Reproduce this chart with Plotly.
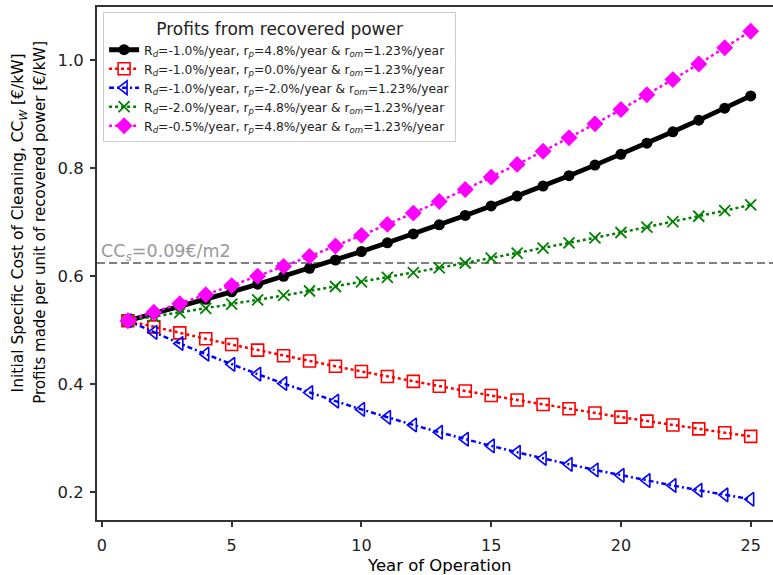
import plotly.graph_objects as go

years = list(range(1, 26))

black_vals = [0.517, 0.5299, 0.5431, 0.5566, 0.5705, 0.5847, 0.5993, 0.6142, 0.6295,
              0.6452, 0.6613, 0.6778, 0.6947, 0.7120, 0.7297, 0.7479, 0.7665, 0.7856,
              0.8052, 0.8253, 0.8458, 0.8669, 0.8885, 0.9107, 0.9334]
red_vals = [0.517, 0.5056, 0.4945, 0.4836, 0.4729, 0.4625, 0.4523, 0.4424, 0.4326,
            0.4231, 0.4138, 0.4047, 0.3957, 0.3870, 0.3785, 0.3702, 0.3620, 0.3540,
            0.3462, 0.3386, 0.3311, 0.3238, 0.3167, 0.3097, 0.3029]
blue_vals = [0.517, 0.4955, 0.4749, 0.4551, 0.4362, 0.4181, 0.4007, 0.3840, 0.3681,
             0.3528, 0.3381, 0.3240, 0.3105, 0.2976, 0.2853, 0.2734, 0.2620, 0.2511,
             0.2407, 0.2307, 0.2211, 0.2119, 0.2031, 0.1946, 0.1865]
green_vals = [0.517, 0.5245, 0.5322, 0.5399, 0.5478, 0.5558, 0.5638, 0.5721, 0.5804,
              0.5888, 0.5974, 0.6061, 0.6149, 0.6239, 0.6330, 0.6422, 0.6515, 0.6610,
              0.6706, 0.6804, 0.6903, 0.7004, 0.7105, 0.7209, 0.7314]
magenta_vals = [0.517, 0.5326, 0.5486, 0.5651, 0.5821, 0.5996, 0.6177, 0.6362, 0.6554,
                0.6751, 0.6954, 0.7163, 0.7379, 0.7601, 0.7830, 0.8065, 0.8308, 0.8558,
                0.8816, 0.9081, 0.9354, 0.9636, 0.9925, 1.0224, 1.0532]

names = [
    "R<sub><i>d</i></sub>=-1.0%/year, r<sub><i>p</i></sub>=4.8%/year & r<sub><i>om</i></sub>=1.23%/year",
    "R<sub><i>d</i></sub>=-1.0%/year, r<sub><i>p</i></sub>=0.0%/year & r<sub><i>om</i></sub>=1.23%/year",
    "R<sub><i>d</i></sub>=-1.0%/year, r<sub><i>p</i></sub>=-2.0%/year & r<sub><i>om</i></sub>=1.23%/year",
    "R<sub><i>d</i></sub>=-2.0%/year, r<sub><i>p</i></sub>=4.8%/year & r<sub><i>om</i></sub>=1.23%/year",
    "R<sub><i>d</i></sub>=-0.5%/year, r<sub><i>p</i></sub>=4.8%/year & r<sub><i>om</i></sub>=1.23%/year",
]
cc_s_value = 0.624
cc_s_label = "CC<sub><i>s</i></sub>=0.09€/m2"
x_ticks = [0, 5, 10, 15, 20, 25]
y_ticks = [0.2, 0.4, 0.6, 0.8, 1.0]

FONT = "DejaVu Sans"
fig = go.Figure()

fig.add_trace(go.Scatter(
    x=years, y=black_vals, name=names[0], mode="lines+markers",
    line=dict(color="black", width=4.8),
    marker=dict(symbol="circle", size=11, color="black")))
fig.add_trace(go.Scatter(
    x=years, y=red_vals, name=names[1], mode="lines+markers",
    line=dict(color="#ff0000", width=2.5, dash="dot"),
    marker=dict(symbol="square-open", size=12, color="#ff0000", line=dict(width=1.6))))
fig.add_trace(go.Scatter(
    x=years, y=blue_vals, name=names[2], mode="lines+markers",
    line=dict(color="#0000ff", width=2.5, dash="5px,3px,2px,3px"),
    marker=dict(symbol="triangle-left-open", size=12, color="#0000ff", line=dict(width=1.6))))
fig.add_trace(go.Scatter(
    x=years, y=green_vals, name=names[3], mode="lines+markers",
    line=dict(color="#008000", width=2.5, dash="dot"),
    marker=dict(symbol="x-thin-open", size=11, color="#008000", line=dict(width=1.8, color="#008000"))))
fig.add_trace(go.Scatter(
    x=years, y=magenta_vals, name=names[4], mode="lines+markers",
    line=dict(color="#ff00ff", width=2.5, dash="dot"),
    marker=dict(symbol="diamond", size=13, color="#ff00ff")))

fig.add_shape(type="line", xref="paper", x0=0, x1=1, yref="y", y0=cc_s_value, y1=cc_s_value,
              line=dict(color="#808080", width=2, dash="8px,4px"), layer="below")

fig.add_annotation(text=cc_s_label, xref="x", x=-0.12, xanchor="left",
                   yref="y", y=cc_s_value, yanchor="bottom", yshift=-3,
                   showarrow=False, font=dict(family=FONT, size=17.5, color="#999999"))

fig.add_annotation(text="Year of Operation", xref="paper", x=0.506, xanchor="center",
                   yref="paper", y=-0.089, yanchor="middle", showarrow=False,
                   font=dict(family=FONT, size=16.5, color="black"))
fig.add_annotation(text="Initial Specific Cost of Cleaning, CC<sub><i>W</i></sub> [€/kW]",
                   xref="paper", x=-0.114, xanchor="center", yref="paper", y=0.58,
                   yanchor="middle", textangle=-90, showarrow=False,
                   font=dict(family=FONT, size=15.5, color="black"))
fig.add_annotation(text="Profits made per unit of recovered power [€/kW]",
                   xref="paper", x=-0.084, xanchor="center", yref="paper", y=0.58,
                   yanchor="middle", textangle=-90, showarrow=False,
                   font=dict(family=FONT, size=15, color="black"))

fig.update_layout(
    width=773, height=575,
    margin=dict(l=97, r=0, t=7, b=55),
    paper_bgcolor="white", plot_bgcolor="white",
    font=dict(family=FONT, color="black"),
    showlegend=True,
    legend=dict(
        x=0.009, y=0.99, xanchor="left", yanchor="top",
        bgcolor="rgba(255,255,255,0.85)", bordercolor="#cccccc", borderwidth=1,
        font=dict(family=FONT, size=12.3, color="#222222"),
        title=dict(text="Profits from recovered power", side="top center",
                   font=dict(family=FONT, size=17, color="#222222")),
        itemwidth=30, tracegroupgap=0,
    ),
    xaxis=dict(range=[-0.19, 25.86], tickvals=x_ticks, ticks="outside", ticklen=5,
               tickwidth=1.5, tickcolor="#333333", showline=True, linecolor="#333333",
               linewidth=2, mirror=True, showgrid=False, zeroline=False,
               ticklabelstandoff=5,
               tickfont=dict(family=FONT, size=16, color="#222222")),
    yaxis=dict(range=[0.148, 1.098], tickvals=y_ticks, tickformat=".1f", ticks="outside",
               ticklen=5, tickwidth=1.5, tickcolor="#333333", showline=True,
               linecolor="#333333", linewidth=2, mirror=False, showgrid=False,
               ticklabelstandoff=3,
               zeroline=False, tickfont=dict(family=FONT, size=16.5, color="#222222")),
)

fig.write_html("out.html")
